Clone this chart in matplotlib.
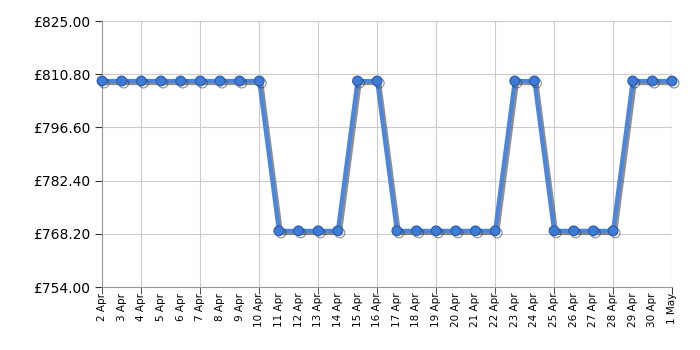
import matplotlib.pyplot as plt
import matplotlib.patheffects as pe

# Data
dates = ["2 Apr", "3 Apr", "4 Apr", "5 Apr", "6 Apr", "7 Apr", "8 Apr", "9 Apr", "10 Apr",
         "11 Apr", "12 Apr", "13 Apr", "14 Apr", "15 Apr", "16 Apr", "17 Apr", "18 Apr",
         "19 Apr", "20 Apr", "21 Apr", "22 Apr", "23 Apr", "24 Apr", "25 Apr", "26 Apr",
         "27 Apr", "28 Apr", "29 Apr", "30 Apr", "1 May"]
prices = [808.99] * 9 + [768.99] * 4 + [808.99] * 2 + [768.99] * 6 + [808.99] * 2 \
    + [768.99] * 4 + [808.99] * 3
y_ticks = [754.00, 768.20, 782.40, 796.60, 810.80, 825.00]

fig = plt.figure(figsize=(7, 3.5), dpi=100)
ax = fig.add_axes([0.1457, 0.18, 0.8143, 0.76])

x = list(range(len(dates)))
ax.plot(x, prices, color="#4a86de", lw=3, marker="o", ms=7,
        markerfacecolor="#3d7bd6", markeredgecolor="#2a5aa8", markeredgewidth=0.8,
        clip_on=False,
        path_effects=[pe.SimpleLineShadow(offset=(1.5, -1.5), shadow_color="#333333", alpha=0.55),
                      pe.Normal()], zorder=3)

ax.set_xlim(0, len(dates) - 1)
ax.set_ylim(754, 825)
ax.set_yticks(y_ticks)
ax.set_yticklabels([f"£{v:.2f}" for v in y_ticks], fontsize=10)

ax.set_xticks(x)
ax.set_xticklabels(dates, rotation=90, fontsize=7.5)
ax.tick_params(axis="x", which="major", length=0, pad=4)

# grid lines + tick marks every third day
ax.xaxis.remove_overlapping_locs = False
grid_days = [0] + [i for i in x if i % 3 == 2] + [len(x) - 1]
ax.set_xticks(grid_days, minor=True)
ax.tick_params(axis="x", which="minor", length=5, color="#333333")
ax.tick_params(axis="y", length=5, color="#333333")
for i in grid_days:
    ax.axvline(i, color="#cccccc", lw=0.8, zorder=0)

ax.grid(True, which="major", axis="y", color="#cccccc", lw=0.8)
ax.set_axisbelow(True)

for side in ["top", "right"]:
    ax.spines[side].set_visible(False)
for side in ["left", "bottom"]:
    ax.spines[side].set_color("#999999")

fig.savefig("out.png", dpi=100)
